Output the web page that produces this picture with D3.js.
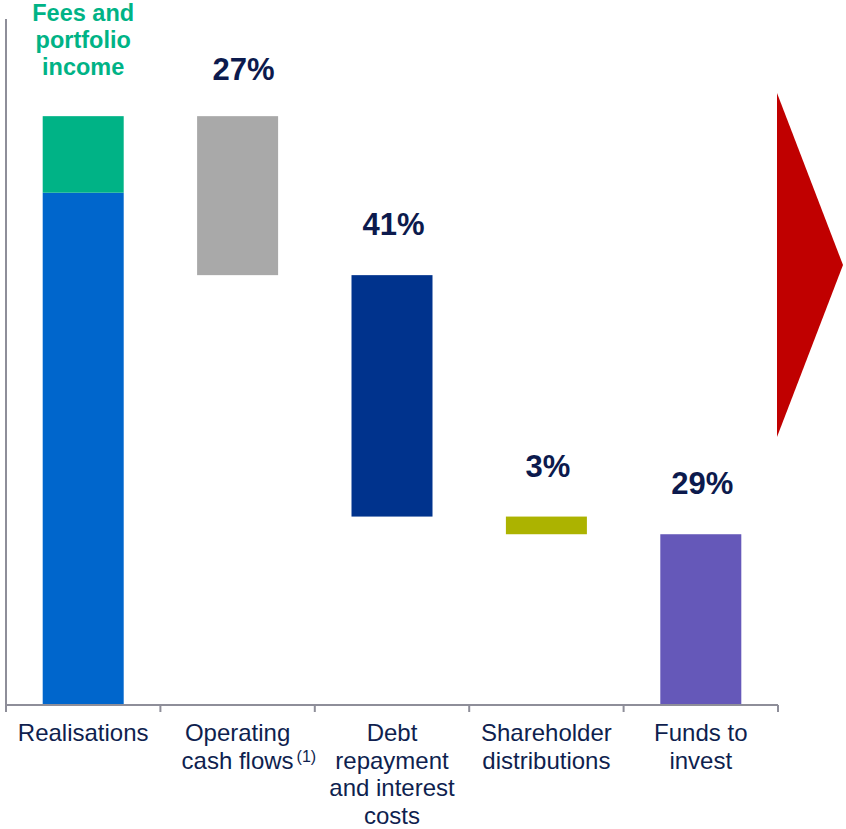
<!DOCTYPE html>
<html>
<head>
<meta charset="utf-8">
<script src="https://cdn.jsdelivr.net/npm/d3@7"></script>
<style>
  html, body { margin: 0; padding: 0; background: #ffffff; }
  svg { display: block; }
</style>
</head>
<body>
<svg id="chart" width="846" height="829"></svg>
<script>
// Cash flow waterfall: sources stacked on the first bar, uses stepping down.
const categories = ["Realisations", "Operating cash flows", "Debt repayment and interest costs", "Shareholder distributions", "Funds to invest"];
const categoryLines = [
  ["Realisations"],
  ["Operating", "cash flows"],
  ["Debt", "repayment", "and interest", "costs"],
  ["Shareholder", "distributions"],
  ["Funds to", "invest"]
];
const sourceValues = [87, 13];            // realisations, fees and portfolio income
const sourceLabel = ["Fees and", "portfolio", "income"];
const useValues = [27, 41, 3, 29];         // % of total cash inflow
const useLabels = ["27%", "41%", "3%", "29%"];
const colors = {
  realisations: "#0066cc",
  fees: "#00b386",
  uses: ["#a9a9a9", "#00338d", "#acb300", "#6558b9"]
};

const svg = d3.select("#chart");
const axisLeft = 6, axisRight = 778, axisBottom = 705, axisTop = 19;

const x = d3.scaleBand().domain(categories).range([axisLeft, axisRight]).paddingInner(0).paddingOuter(0);
const barW = 81;
const y = d3.scaleLinear().domain([0, 116.5]).range([axisBottom, axisTop]);

const barX = c => x(c) + x.bandwidth() / 2 - barW / 2;

// Stacked source bar
const total = d3.sum(sourceValues);
svg.append("rect")
  .attr("x", barX(categories[0])).attr("width", barW)
  .attr("y", y(sourceValues[0])).attr("height", y(0) - y(sourceValues[0]))
  .attr("fill", colors.realisations);
svg.append("rect")
  .attr("x", barX(categories[0])).attr("width", barW)
  .attr("y", y(total)).attr("height", y(sourceValues[0]) - y(total))
  .attr("fill", colors.fees);

// Floating waterfall steps
let running = total;
const steps = useValues.map((v, i) => {
  const top = running, bottom = running - v;
  running = bottom;
  return { cat: categories[i + 1], top, bottom, label: useLabels[i], color: colors.uses[i] };
});

svg.selectAll("rect.step").data(steps).enter().append("rect")
  .attr("class", "step")
  .attr("x", d => barX(d.cat)).attr("width", barW)
  .attr("y", d => y(d.top)).attr("height", d => y(d.bottom) - y(d.top))
  .attr("fill", d => d.color);

svg.selectAll("text.pct").data(steps).enter().append("text")
  .attr("class", "pct")
  .attr("x", (d, i) => x(d.cat) + x.bandwidth() / 2 + (i === 0 ? 6 : 1.5))
  .attr("y", (d, i) => y(d.top) - (i === 0 ? 36 : 40))
  .attr("text-anchor", "middle")
  .attr("font-family", "Liberation Sans, Arial, sans-serif")
  .attr("font-weight", "bold")
  .attr("font-size", 31)
  .attr("fill", "#0c1a4d")
  .text(d => d.label);

// Label for the fees segment
const feeText = svg.append("text")
  .attr("text-anchor", "middle")
  .attr("font-family", "Liberation Sans, Arial, sans-serif")
  .attr("font-weight", "bold")
  .attr("font-size", 23.5)
  .attr("fill", colors.fees);
sourceLabel.forEach((t, i) => {
  feeText.append("tspan")
    .attr("x", x(categories[0]) + x.bandwidth() / 2)
    .attr("y", 21 + i * 27)
    .text(t);
});

// Axes
const axisColor = "#8e8e99";
svg.append("line")
  .attr("x1", axisLeft).attr("x2", axisLeft)
  .attr("y1", axisTop).attr("y2", axisBottom)
  .attr("stroke", axisColor).attr("stroke-width", 2);

const xAxis = svg.append("g").attr("transform", `translate(0,${axisBottom})`);
xAxis.append("line")
  .attr("x1", axisLeft).attr("x2", axisRight)
  .attr("stroke", axisColor).attr("stroke-width", 2);
const boundaries = categories.map(c => x(c)).concat([x(categories[categories.length - 1]) + x.bandwidth()]);
xAxis.selectAll("line.tick").data(boundaries).enter().append("line")
  .attr("class", "tick")
  .attr("x1", d => d).attr("x2", d => d)
  .attr("y1", 0).attr("y2", 7)
  .attr("stroke", axisColor).attr("stroke-width", 2);

// Category labels
categories.forEach((c, i) => {
  const cx = x(c) + x.bandwidth() / 2;
  categoryLines[i].forEach((t, j) => {
    const txt = svg.append("text")
      .attr("x", cx)
      .attr("y", 741 + j * 27.5)
      .attr("text-anchor", "middle")
      .attr("font-family", "Liberation Sans, Arial, sans-serif")
      .attr("font-size", 24)
      .attr("fill", "#0f1f4f")
      .text(t);
    if (i === 1 && j === 1) {
      const w = txt.node().getComputedTextLength();
      svg.append("text")
        .attr("x", cx + w / 2 + 3)
        .attr("y", 741 + j * 27.5 - 7)
        .attr("font-family", "Liberation Sans, Arial, sans-serif")
        .attr("font-size", 16)
        .attr("fill", "#0f1f4f")
        .text("(1)");
    }
  });
});

// Arrow pointing onward
const arrowX = d3.scaleLinear().domain([0, 1]).range([axisRight - 1, 843]);
const arrowY = d3.scaleLinear().domain([0, 1]).range([93, 437]);
svg.append("path")
  .attr("d", d3.line()([[arrowX(0), arrowY(0)], [arrowX(1), arrowY(0.5)], [arrowX(0), arrowY(1)]]) + "Z")
  .attr("fill", "#c00000");
</script>
</body>
</html>
